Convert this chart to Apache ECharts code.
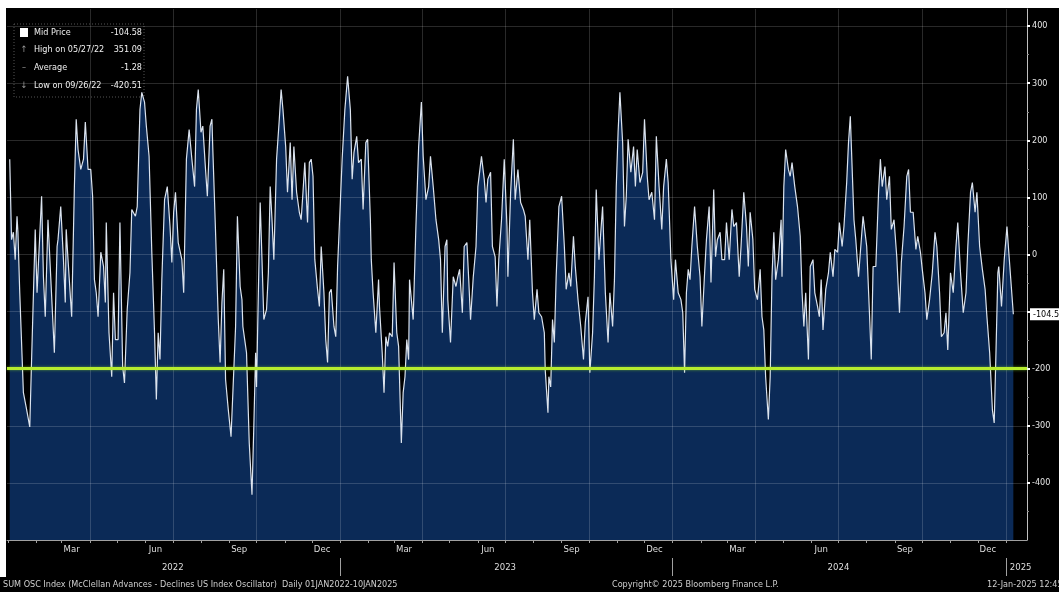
<!DOCTYPE html>
<html>
<head>
<meta charset="utf-8">
<script src="https://cdn.jsdelivr.net/npm/echarts@6/dist/echarts.min.js"></script>
<style>
html,body{margin:0;padding:0;background:#000;}
#chart{width:1059px;height:592px;}
</style>
</head>
<body>
<div id="chart"></div>
<script>
// ---- DATA (days counted from 2022-01-01, values of the oscillator) ----
const tradingDays = [
  2,4,6,8,10,11,13,17,20,24, 26,30,32,37,39,41,44,47,51,54,
  55,58,61,63,64,66,70,73,75,77, 80,83,85,88,91,93,95,97,99,102,
  105,107,108,111,114,116,118,121,123,126, 128,131,134,136,140,142,145,147,150,152,
  155,158,161,163,165,167,169,172,175,178, 180,182,184,187,
  191,193,196,199,202,205,207,209,212,214, 217,219,222,224,225,228,231,233,235,237,
  239,242,245,247,250,252,255,257,258,260, 262,265,268,270,272,273,275,277,279,281,
  284,286,288,290,292,295,298,300,302,305, 307,310,312,314,317,320,322,324,326,329,
  331,333,335,337,340,342,344,347,349,351, 353,355,358,360,362,365,367,370,373,
  376,378,380,383,385,388,390,393,395,398, 399,401,404,407,408,411,413,415,417,419,
  422,424,427,429,432,434,436,438,440,441, 443,445,448,451,454,456,459,462,464,467,
  470,473,475,477,480,482,483,486,489,492, 494,496,499,501,504,506,508,511,514,516,
  518,520,523,525,527,530,532,535,537,539, 542,545,548,549,552,555,557,560,
  563,566,568,571,573,576,578,581,583,586, 589,590,593,594,596,598,600,602,605,608,
  611,613,616,618,621,623,626,629,632,634, 637,639,642,644,646,649,651,653,656,659,
  661,664,666,668,670,672,675,677,679,681, 684,687,689,691,694,697,699,702,704,707,
  710,712,715,718,720,723,725,728,731,733, 736,739,741,743,745,747,
  749,751,754,757,760,762,765,767,770,772, 775,777,779,782,784,787,789,792,795,797,
  800,803,805,808,811,813,815,818,820,823, 826,828,830,832,835,837,839,841,843,846,
  849,850,852,854,857,859,861,864,867,870, 872,874,876,879,881,884,886,889,891,893,
  895,898,901,903,906,908,911,913,916,918, 921,923,925,926,929,931,934,
  939,943,946,948,950,953,956,958,960,963, 965,968,970,973,976,979,981,984,987,989,
  991,994,997,999,1002,1004,1007,1009,1012,1015, 1018,1020,1023,1025,1028,1030,1032,1035,1038,1041,
  1043,1046,1049,1052,1054,1057,1059,1062,1064,1067, 1070,1073,1075,1078,1081,1083,1085,1087,1088,1091,
  1094,1097,1099,1104
];
const oscValues = [
  167,26,39,-9,67,39,-67,-242,-267,-302, -184,44,-67,102,-39,-109,61,-39,-172,14,
  26,84,-9,-84,44,-9,-109,119,237,184, 149,167,232,149,149,102,-44,-67,-109,4,
  -21,-84,56,-137,-214,-67,-149,-149,56,-196, -225,-96,-32,79,67,84,254,284,267,225,
  172,4,-137,-254,-137,-184,-44,96,119,49, -14,74,109,21,
  -9,-67,167,219,167,119,254,289,214,225, 149,102,225,237,184,39,-114,-189,-84,-26,
  -219,-272,-319,-242,-126,67,-56,-79,-126,-149, -172,-330,-420.51,-302,-172,-232,-67,91,-9,-114,
  -96,-32,119,61,-9,167,237,289,254,189, 109,196,96,189,109,74,61,109,161,56,
  161,167,137,-9,-61,-91,14,-67,-149,-189, -67,-61,-126,-144,-21,91,167,254,312,
  254,132,179,207,161,167,79,196,202,61, -9,-67,-137,-44,-91,-172,-242,-144,-161,-137,
  -144,-14,-137,-161,-330,-242,-214,-149,-184,-44, -79,-114,49,189,267,172,96,119,172,119,
  61,26,-9,-137,14,26,-79,-154,-39,-56, -39,-26,-102,14,21,-44,-114,-39,14,119,
  119,172,132,91,132,144,14,-4,-91,-9, 61,167,49,-39,109,202,96,149,
  91,79,67,-9,61,-67,-114,-61,-102,-109, -137,-202,-277,-214,-232,-114,-154,-39,84,102,
  14,-61,-32,-56,32,-21,-79,-126,-184,-119, -74,-207,-137,-39,114,-9,39,84,-67,-154,
  -67,-126,-44,119,214,284,196,49,102,202, 144,189,119,184,126,144,237,137,96,109,
  61,207,119,44,119,167,126,-9,-79,-9, -67,-79,-102,-207,-67,-26,
  -44,14,84,14,-39,-126,-32,26,84,-49, 114,-4,26,39,-9,-9,56,-9,79,49,
  56,-39,14,109,49,-21,74,26,-61,-79, -26,-109,-132,-214,-289,-214,-39,39,-44,-9,
  61,-39,119,184,149,137,161,119,84,32, -67,-126,-67,-184,-21,-9,-67,-91,-109,-44,
  -132,-61,-32,4,-39,9,4,56,14,49, 126,196,242,196,61,26,-39,
  67,14,-102,-184,-21,-21,109,167,119,154, 96,137,44,61,-4,-102,-14,49,137,149,
  74,74,9,32,4,-26,-67,-114,-79,-32, 39,14,-67,-144,-137,-102,-167,-32,-67,14,
  56,-32,-102,-67,14,109,126,74,109,14, -26,-61,-109,-172,-272,-295,-167,-32,-21,-91,
  -9,49,4,-104.58
];

// ---- AXIS / LABEL TABLES ----
const axisStartDay = -1, axisEndDay = 1119;
const quarterStartDays = [90,181,273,365,455,546,638,730,821,912,1004,1096];
const monthLabelDays = [70,162,254,345,435,527,619,710,801,893,985,1076];
const monthLabels = ['Mar','Jun','Sep','Dec','Mar','Jun','Sep','Dec','Mar','Jun','Sep','Dec'];
const yearLabelDays = [181,546,912,1112];
const yearLabels = ['2022','2023','2024','2025'];
const yearStartDays = [365,730,1096];
const yLabelValues = [400,300,200,100,0,-200,-300,-400];
const yGridValues = [400,300,200,100,0,-100,-200,-300,-400];
const thresholdValue = -200;
const lastValue = -104.58;
const legendLabels = ['Mid Price','High on 05/27/22','Average','Low on 09/26/22'];
const legendValues = ['-104.58','351.09','-1.28','-420.51'];
const footerLeft = 'SUM OSC Index (McClellan Advances - Declines US Index Oscillator)  Daily 01JAN2022-10JAN2025';
const footerMid = 'Copyright\u00A9 2025 Bloomberg Finance L.P.';
const footerRight = '12-Jan-2025 12:45:15';

// ---- helpers ----
const DAY_MS = 86400000;
const BASE_MS = Date.UTC(2022, 0, 1);
const toTime = d => BASE_MS + d * DAY_MS;
const FONT = "'Liberation Sans Narrow','DejaVu Sans Condensed','Arial Narrow','Liberation Sans',sans-serif";
function lookup(times, labels) {
  return function (v) {
    const t = +v;
    for (let i = 0; i < times.length; i++) if (Math.abs(times[i] - t) < DAY_MS / 2) return labels[i];
    return '';
  };
}
const monthStarts = [];
for (let y = 2022; y <= 2025; y++) for (let m = 0; m < 12; m++) {
  const t = Date.UTC(y, m, 1);
  if (t > toTime(axisStartDay) && t < toTime(axisEndDay)) monthStarts.push(t);
}
const monthLabelTimes = monthLabelDays.map(toTime);
const yearLabelTimes = yearLabelDays.map(toTime);
const seriesData = tradingDays.map((d, i) => [toTime(d), oscValues[i]]);

const gridLineStyle = { color: 'rgba(255,255,255,0.16)', width: 1, type: 'solid' };
const markLines = []
  .concat(quarterStartDays.map(d => ({ xAxis: toTime(d), lineStyle: gridLineStyle })))
  .concat(yGridValues.map(v => ({ yAxis: v, lineStyle: gridLineStyle })))
  .concat([{ yAxis: thresholdValue, lineStyle: { color: '#b6ec2e', width: 3, type: 'solid', shadowColor: 'rgba(140,220,40,0.6)', shadowBlur: 3 } }])
  .concat([{ yAxis: lastValue, lineStyle: { color: 'rgba(0,0,0,0)', width: 1 },
      label: { show: true, position: 'end', distance: 3, formatter: () => lastValue.toFixed(2), opacity: 1,
               backgroundColor: '#ffffff', color: '#000000', fontSize: 9, fontFamily: FONT, padding: [2, 2, 1, 3] } }]);

const xBase = { type: 'value', gridIndex: 0, position: 'bottom', min: toTime(axisStartDay), max: toTime(axisEndDay), splitLine: { show: false }, minorTick: { show: false } };

// legend graphic
const legendChildren = [
  { type: 'rect', shape: { x: 14, y: 24, width: 130, height: 73 }, style: { fill: '#000', stroke: '#555', lineWidth: 1, lineDash: [1, 2] } },
  { type: 'rect', shape: { x: 20, y: 28, width: 8, height: 9 }, style: { fill: '#ffffff' } }
];
const legendIcons = ['', '\u2191', '\u2013', '\u2193'];
const rowY = [33, 50, 68, 86];
legendLabels.forEach((lab, i) => {
  if (legendIcons[i]) legendChildren.push({ type: 'text', x: 24, y: rowY[i], style: { text: legendIcons[i], fill: '#9a9a9a', font: '9px ' + FONT, align: 'center', verticalAlign: 'middle', textAlign: 'center', textVerticalAlign: 'middle' } });
  legendChildren.push({ type: 'text', x: 34, y: rowY[i], style: { text: lab, fill: '#f0f0f0', font: '9px ' + FONT, align: 'left', verticalAlign: 'middle', textAlign: 'left', textVerticalAlign: 'middle' } });
  legendChildren.push({ type: 'text', x: 142, y: rowY[i], style: { text: legendValues[i], fill: '#f0f0f0', font: '9px ' + FONT, align: 'right', verticalAlign: 'middle', textAlign: 'right', textVerticalAlign: 'middle' } });
});

const footerStyle = (text, align) => ({ text, fill: '#cfcfcf', font: '9px ' + FONT, align, verticalAlign: 'middle', textAlign: align, textVerticalAlign: 'middle' });

const chart = echarts.init(document.getElementById('chart'), null, { renderer: 'canvas' });
chart.setOption({
  backgroundColor: '#000000',
  animation: false,
  textStyle: { fontFamily: FONT },
  grid: { left: 7, right: 32, top: 9, bottom: 52, containLabel: false },
  xAxis: [
    Object.assign({}, xBase, {
      axisLine: { show: true, onZero: false, lineStyle: { color: '#a0a0a0', width: 1 } },
      axisTick: { show: true, customValues: monthStarts, length: 3, lineStyle: { color: '#a0a0a0' } },
      axisLabel: { show: true, customValues: monthLabelTimes, formatter: lookup(monthLabelTimes, monthLabels),
                   color: '#dedede', fontSize: 9.5, margin: 5, fontFamily: FONT }
    }),
    Object.assign({}, xBase, {
      axisLine: { show: false, onZero: false }, axisTick: { show: false },
      axisLabel: { show: true, customValues: yearLabelTimes, formatter: lookup(yearLabelTimes, yearLabels),
                   color: '#dedede', fontSize: 9.5, margin: 23, fontFamily: FONT }
    }),
    Object.assign({}, xBase, {
      offset: 18,
      axisLine: { show: false, onZero: false },
      axisTick: { show: true, customValues: yearStartDays.map(toTime), length: 18, lineStyle: { color: '#a0a0a0', width: 1 } },
      axisLabel: { show: false }
    })
  ],
  yAxis: {
    type: 'value', position: 'right', min: -500, max: 430, interval: 100,
    axisLine: { show: true, lineStyle: { color: '#c0c0c0', width: 1 } },
    axisTick: { show: true, customValues: yGridValues, length: 3, lineStyle: { color: '#ffffff', width: 2 } },
    minorTick: { show: true, splitNumber: 2, length: 2, lineStyle: { color: '#8a8a8a' } },
    axisLabel: { show: true, customValues: yLabelValues, color: '#e6e6e6', fontSize: 9, margin: 5, fontFamily: FONT },
    splitLine: { show: false }
  },
  series: [{
    name: 'Mid Price', type: 'line', xAxisIndex: 0, yAxisIndex: 0,
    data: seriesData, showSymbol: false, symbol: 'none', smooth: false,
    lineStyle: { color: '#dbe3ee', width: 1.2 },
    areaStyle: { color: '#0b2a57', opacity: 1, origin: 'start' },
    z: 2,
    markLine: { silent: true, symbol: ['none', 'none'], animation: false, label: { show: false }, data: markLines }
  }],
  graphic: [
    { type: 'rect', shape: { x: 0, y: 0, width: 1059, height: 8 }, style: { fill: '#ffffff' }, z: 100 },
    { type: 'rect', shape: { x: 0, y: 0, width: 6, height: 577 }, style: { fill: '#ffffff' }, z: 100 },
    { type: 'group', z: 100, children: legendChildren },
    { type: 'text', x: 3, y: 585, z: 100, style: footerStyle(footerLeft, 'left') },
    { type: 'text', x: 612, y: 585, z: 100, style: footerStyle(footerMid, 'left') },
    { type: 'text', x: 987, y: 585, z: 100, style: footerStyle(footerRight, 'left') }
  ]
});
</script>
</body>
</html>
